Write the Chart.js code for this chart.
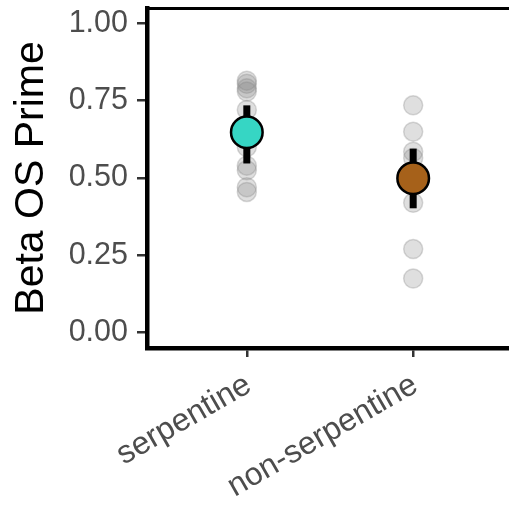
<!DOCTYPE html>
<html>
<head>
<meta charset="utf-8">
<script src="https://cdn.jsdelivr.net/npm/chart.js@4/dist/chart.umd.min.js"></script>
<style>
  html, body { margin: 0; padding: 0; background: #ffffff; overflow: hidden; width: 509px; height: 512px; }
  #wrap { width: 520px; height: 512px; position: relative; }
  canvas { display: block; }
</style>
</head>
<body>
<div id="wrap"><canvas id="c" width="520" height="512" style="width:520px;height:512px"></canvas></div>
<script>
const categories = ['serpentine', 'non-serpentine'];
const serpentineValues = [0.815, 0.805, 0.79, 0.78, 0.72, 0.60, 0.54, 0.525, 0.47, 0.455];
const nonSerpentineValues = [0.735, 0.65, 0.585, 0.565, 0.42, 0.27, 0.175];
const groupMeans = [0.648, 0.499];
const errorLow = [0.547, 0.402];
const errorHigh = [0.735, 0.595];
const yTicks = [0, 0.25, 0.5, 0.75, 1];
const meanColors = ['#36D6C4', '#A6611A'];

const rawGroups = [serpentineValues, nonSerpentineValues];
const rawPoints = [];
rawGroups.forEach((vals, i) => vals.forEach(v => rawPoints.push({ x: i + 1, y: v })));

const FONT = "'Liberation Sans', Arial, Helvetica, sans-serif";

const datasets = [
  {
    type: 'scatter',
    label: 'means',
    order: 0,
    data: groupMeans.map((m, i) => ({ x: i + 1, y: m })),
    backgroundColor: meanColors,
    borderColor: '#000000',
    borderWidth: 2.5,
    pointRadius: 15.8,
    pointHoverRadius: 15.8
  }
];
categories.forEach((c, i) => {
  datasets.push({
    type: 'scatter',
    label: 'err-' + c,
    order: 1,
    showLine: true,
    data: [{ x: i + 1, y: errorLow[i] }, { x: i + 1, y: errorHigh[i] }],
    borderColor: '#000000',
    borderWidth: 7,
    borderCapStyle: 'butt',
    pointRadius: 0,
    pointHoverRadius: 0
  });
});
datasets.push({
  type: 'scatter',
  label: 'raw',
  order: 2,
  data: rawPoints,
  backgroundColor: 'rgba(128,128,128,0.25)',
  borderColor: 'rgba(128,128,128,0.3)',
  borderWidth: 1.5,
  pointRadius: 9.5,
  pointHoverRadius: 9.5
});

new Chart(document.getElementById('c'), {
  type: 'scatter',
  data: { datasets },
  options: {
    responsive: false,
    maintainAspectRatio: false,
    devicePixelRatio: 1,
    animation: false,
    events: [],
    layout: { autoPadding: false, padding: { top: 8, right: 7, left: 0, bottom: 0 } },
    plugins: { legend: { display: false }, tooltip: { enabled: false } },
    scales: {
      x: {
        type: 'linear',
        position: 'bottom',
        min: 0.4,
        max: 2.6,
        afterBuildTicks: s => { s.ticks = categories.map((c, i) => ({ value: i + 1 })); },
        afterFit: s => { s.height = 164; s.paddingLeft = 0; s.paddingRight = 0; },
        ticks: {
          autoSkip: false,
          minRotation: 30,
          maxRotation: 30,
          padding: 9,
          labelOffset: 2,
          color: '#4D4D4D',
          font: { family: FONT, size: 32 },
          callback: v => categories[Math.round(v) - 1]
        },
        grid: { display: true, drawOnChartArea: false, drawTicks: true, tickLength: 9, color: '#333333', lineWidth: 2.5 },
        border: { display: true, color: '#000000', width: 4.5 }
      },
      xTop: {
        type: 'linear',
        position: 'top',
        min: 0.4,
        max: 2.6,
        afterFit: s => { s.height = 0; s.paddingLeft = 0; s.paddingRight = 0; },
        ticks: { display: false },
        grid: { display: false, drawTicks: false },
        border: { display: true, color: '#000000', width: 3 }
      },
      y: {
        type: 'linear',
        min: -0.05,
        max: 1.05,
        afterBuildTicks: s => { s.ticks = yTicks.map(v => ({ value: v })); },
        afterFit: s => { s.width = 147; s.paddingTop = 0; s.paddingBottom = 0; },
        ticks: {
          padding: 9,
          color: '#4D4D4D',
          font: { family: FONT, size: 30.5 },
          callback: v => Number(v).toFixed(2)
        },
        grid: { display: true, drawOnChartArea: false, drawTicks: true, tickLength: 10, color: '#333333', lineWidth: 2.5 },
        border: { display: true, color: '#000000', width: 4.5 },
        title: {
          display: true,
          text: 'Beta OS Prime',
          color: '#000000',
          font: { family: FONT, size: 41 },
          padding: { top: 7, bottom: 0 }
        }
      }
    }
  }
});
</script>
</body>
</html>
